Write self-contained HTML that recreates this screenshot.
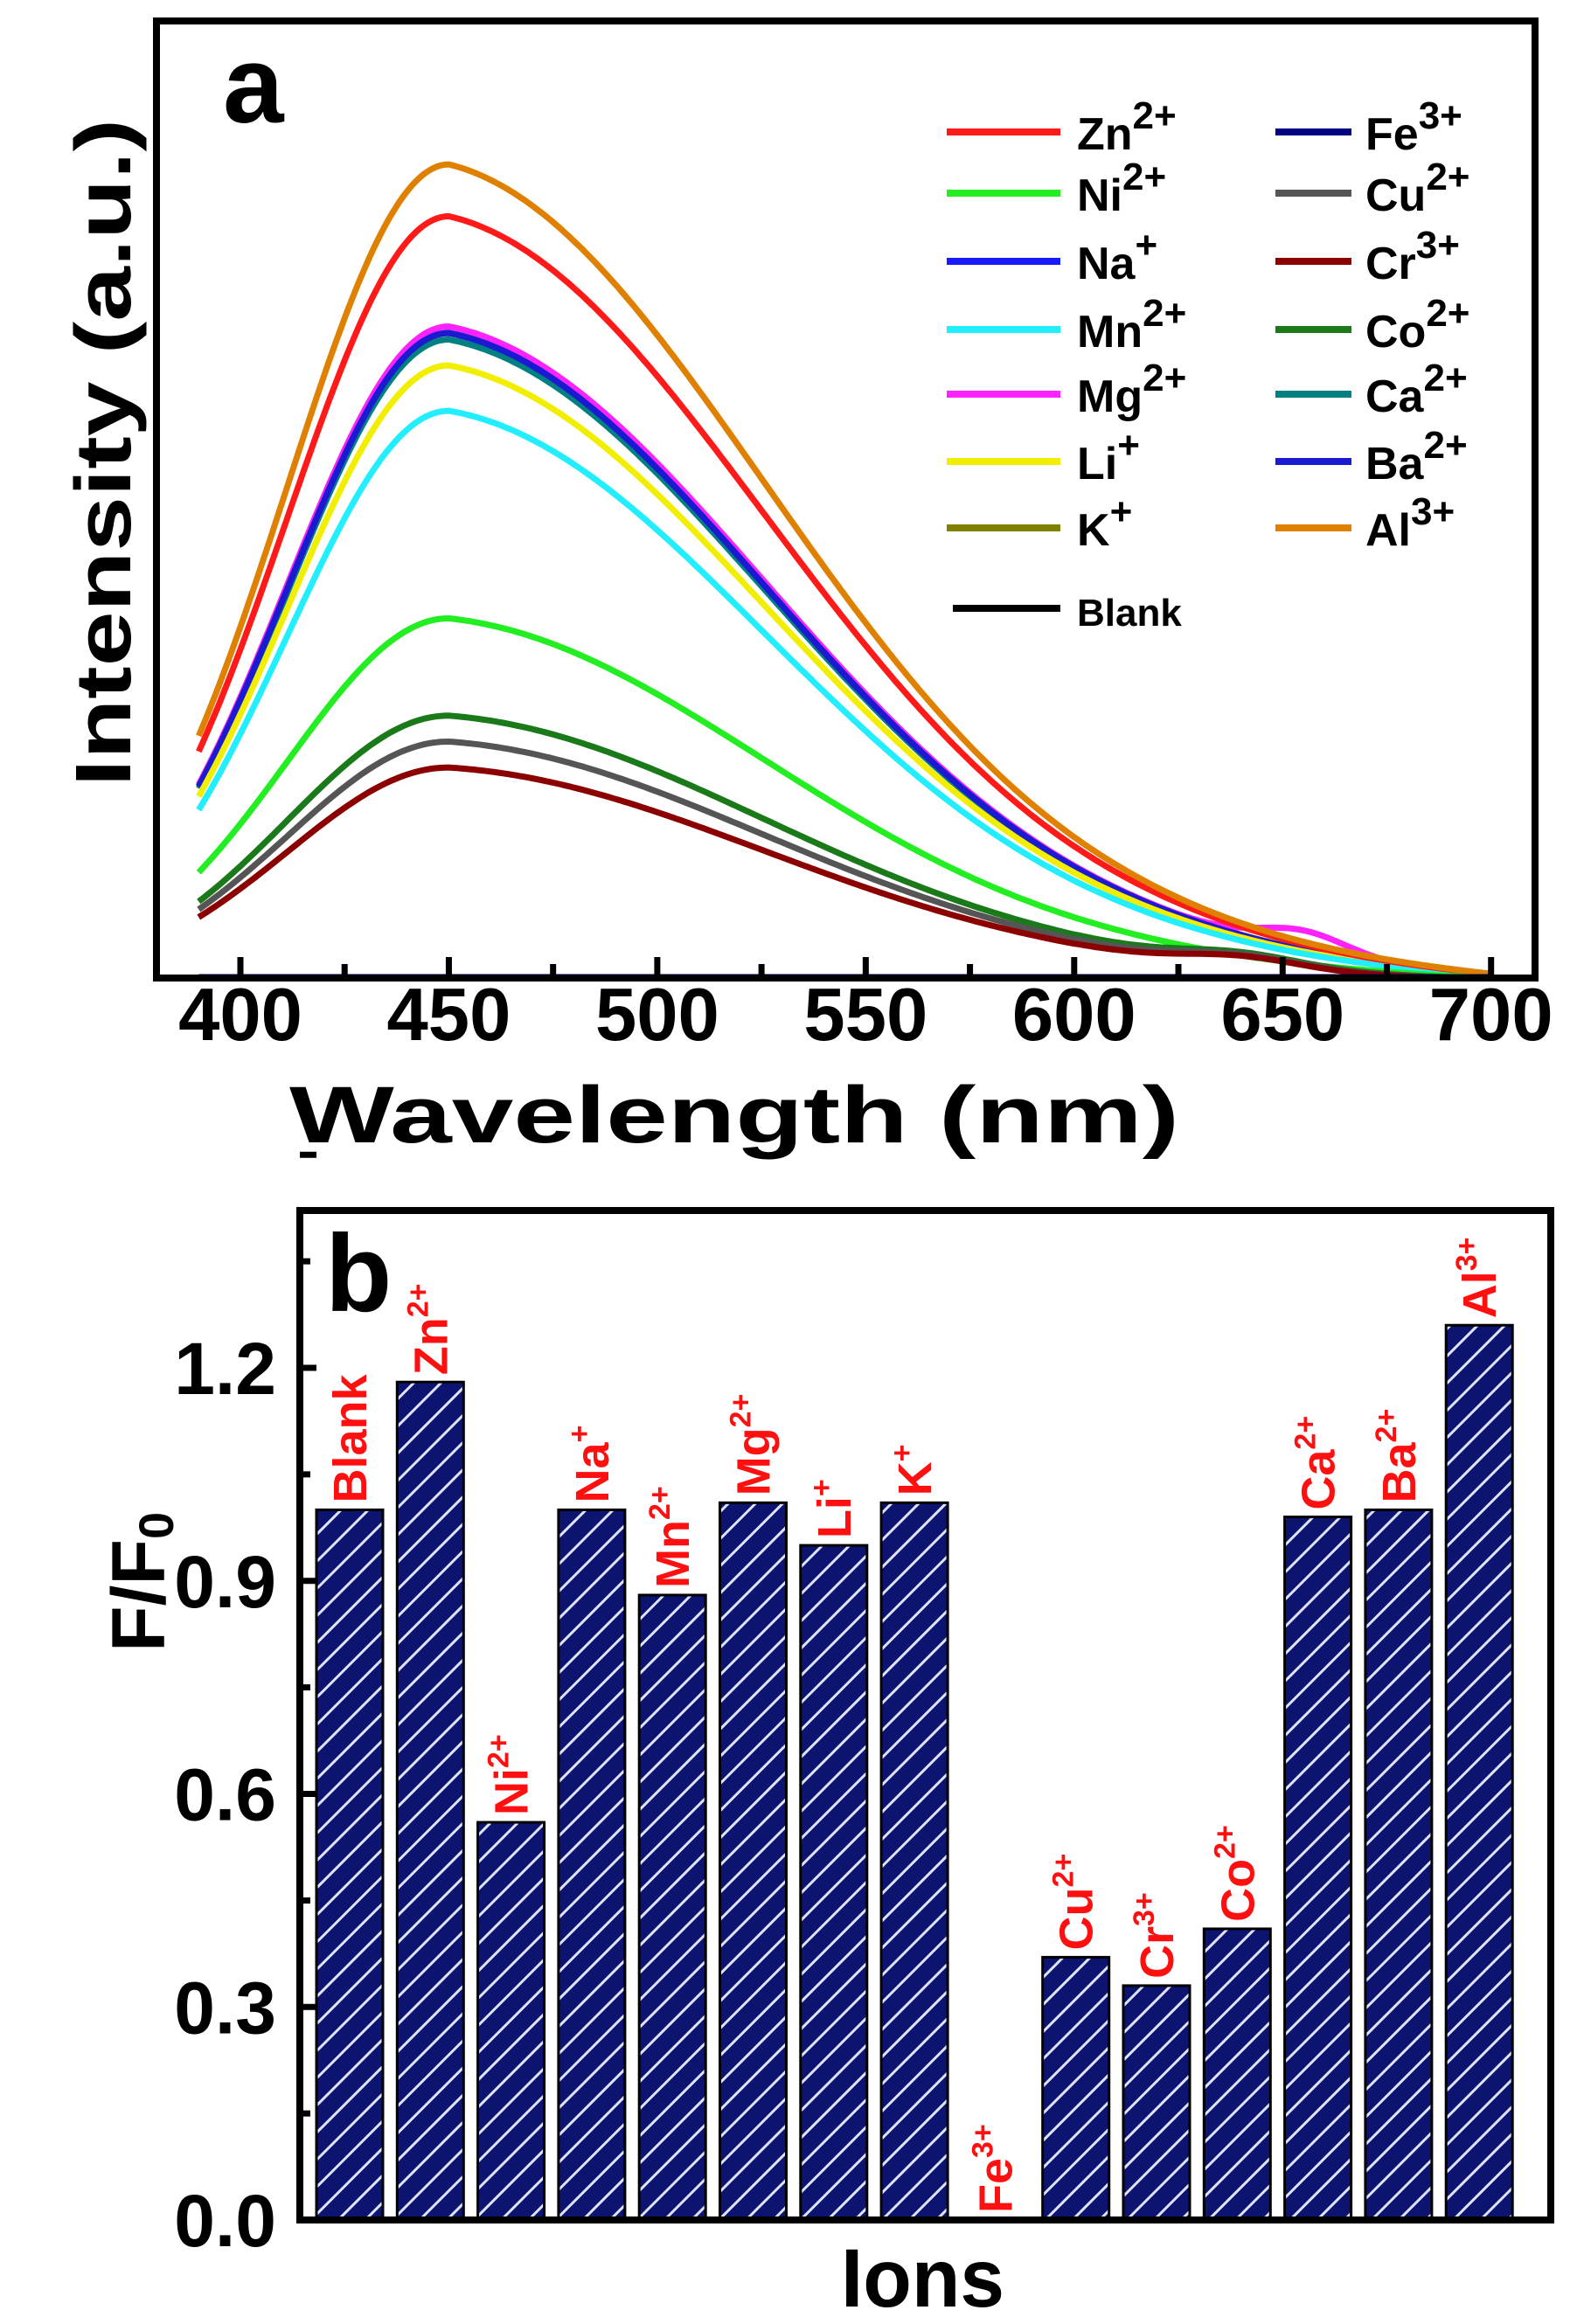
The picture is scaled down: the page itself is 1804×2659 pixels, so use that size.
<!DOCTYPE html>
<html><head><meta charset="utf-8"><style>
html,body{margin:0;padding:0;background:#fff;}
svg{display:block;font-family:"Liberation Sans",Arial,sans-serif;font-weight:bold;}
</style></head><body>
<svg id="s" width="1804" height="2659" viewBox="0 0 1804 2659" xmlns="http://www.w3.org/2000/svg">
<defs>
<pattern id="h" patternUnits="userSpaceOnUse" width="22" height="22" patternTransform="rotate(45)">
<rect width="22" height="22" fill="#0d1470"/>
<rect x="0" y="0" width="3" height="22" fill="#dfe3ff"/>
</pattern>
<clipPath id="ca"><rect x="179" y="24" width="1577" height="1095"/></clipPath>
</defs>
<g id="curves" clip-path="url(#ca)"></g>
<rect x="179" y="24" width="1577" height="1095" fill="none" stroke="#000" stroke-width="8"/>
<g id="xt"></g>
<text x="255" y="140" font-size="125">a</text>
<text x="331" y="1307" font-size="92" textLength="1018" lengthAdjust="spacingAndGlyphs">Wavelength (nm)</text>
<text transform="translate(149,900) rotate(-90)" font-size="90" textLength="764" lengthAdjust="spacingAndGlyphs">Intensity (a.u.)</text>
<g id="leg" font-size="52"></g>

<g id="bars"></g>
<rect x="343" y="1385" width="1431" height="1155" fill="none" stroke="#000" stroke-width="8"/>
<g id="yt"></g>
<text x="372" y="1500" font-size="125">b</text>
<text x="962" y="2639" font-size="95" textLength="187" lengthAdjust="spacingAndGlyphs">Ions</text>
<text transform="translate(188,1890) rotate(-90)" font-size="86">F/F<tspan font-size="56" dy="10">0</tspan></text>
</svg>
<script>
const NS="http://www.w3.org/2000/svg";
function el(p,t,a,txt){const e=document.createElementNS(NS,t);for(const k in a)e.setAttribute(k,a[k]);if(txt!=null)e.textContent=txt;p.appendChild(e);return e;}
const X=l=>275+(l-400)*4.769;
function prof(l){const d=l-450;if(d<0)return Math.exp(-d*d/(2*38.7*38.7));
 let v=0.85*Math.exp(-d*d/(2*78*78))+0.15*Math.exp(-d/120);return v*(1-Math.pow(Math.max(0,(l-600)/100),3)*0.6);}
const series=[["#000",1.0],["#808000",1.01],["#008080",0.99],["#ff22ff",1.01,1],["#1a1aff",1.0],["#1a1ad0",1.0],["#f2ee00",0.95],["#22eeff",0.88],["#ff1a1a",1.18],["#22ee22",0.56],["#1a7a1a",0.41],["#555",0.37],["#8b0000",0.33],["#e08000",1.26]];
const cg=document.getElementById("curves");
series.forEach(s=>{let d="";for(let l=390;l<=700;l+=1){let v=prof(l)*742*s[1];
 if(s[1]<0.5&&l>600)v+=12*Math.exp(-Math.pow((l-640)/20,2));
 if(s[2])v+=22*Math.exp(-Math.pow((l-655)/15,2));
 const y=1123-v;d+=(l==390?"M":"L")+X(l).toFixed(1)+" "+y.toFixed(1);}
 el(cg,"path",{d:d,fill:"none",stroke:s[0],"stroke-width":7});});
el(cg,"line",{x1:X(390),y1:1118,x2:X(700),y2:1118,stroke:"#000080","stroke-width":7});
const xt=document.getElementById("xt");
for(let l=400;l<=700;l+=25){const maj=l%50==0;el(xt,"line",{x1:X(l),x2:X(l),y1:1119,y2:maj?1095:1103,stroke:"#000","stroke-width":7});
 if(maj)el(xt,"text",{x:X(l),y:1190,"font-size":85,"text-anchor":"middle"},String(l));}
const leg=document.getElementById("leg");
const L1=[["#ff1a1a","Zn","2+"],["#22ee22","Ni","2+"],["#1a1aff","Na","+"],["#22eeff","Mn","2+"],["#ff22ff","Mg","2+"],["#f2ee00","Li","+"],["#808000","K","+"]];
const L2=[["#000080","Fe","3+"],["#555","Cu","2+"],["#8b0000","Cr","3+"],["#1a7a1a","Co","2+"],["#008080","Ca","2+"],["#1a1ad0","Ba","2+"],["#e08000","Al","3+"]];
const rows=[151,221,299,377,451,528,604];
function legItem(x1,x2,tx,y,c,n,sup,fs){el(leg,"line",{x1:x1,x2:x2,y1:y,y2:y,stroke:c,"stroke-width":8});
 const t=el(leg,"text",{x:tx,y:y+20});if(fs)t.setAttribute("font-size",fs);t.appendChild(document.createTextNode(n));
 if(sup){el(t,"tspan",{dy:-24,"font-size":44},sup);}}
L1.forEach((r,i)=>legItem(1083,1213,1232,rows[i],r[0],r[1],r[2]));
L2.forEach((r,i)=>legItem(1459,1546,1562,rows[i],r[0],r[1],r[2]));
legItem(1090,1213,1232,696,"#000","Blank",null,44);
const bars=[["Blank","",1.0],["Zn","2+",1.18],["Ni","2+",0.56],["Na","+",1.0],["Mn","2+",0.88],["Mg","2+",1.01],["Li","+",0.95],["K","+",1.01],["Fe","3+",0],["Cu","2+",0.37],["Cr","3+",0.33],["Co","2+",0.41],["Ca","2+",0.99],["Ba","2+",1.0],["Al","3+",1.26]];
const bg=document.getElementById("bars");
const Y=v=>2540-v*812.5;
bars.forEach((b,i)=>{const x=362+i*92.3,w=76,top=Y(b[2]);
 if(b[2]>0)el(bg,"rect",{x:x,y:top,width:w,height:2540-top,fill:"url(#h)",stroke:"#000","stroke-width":3});
 const cx=x+w/2+19;const t=el(bg,"text",{transform:`translate(${cx},${top-8}) rotate(-90)`,"font-size":54,fill:"#ff1010"});
 t.appendChild(document.createTextNode(b[0]));if(b[1])el(t,"tspan",{dy:-22,"font-size":34},b[1]);});
const yt=document.getElementById("yt");
for(let v=0;v<=1.5001;v+=0.15){const maj=Math.round(v*100)%30==0;el(yt,"line",{x1:343,x2:maj?362:355,y1:Y(v),y2:Y(v),stroke:"#000","stroke-width":7});
 if(maj&&v<1.3)el(yt,"text",{x:316,y:Y(v)+30,"font-size":84,"text-anchor":"end"},v.toFixed(1));}
</script>
</body></html>
